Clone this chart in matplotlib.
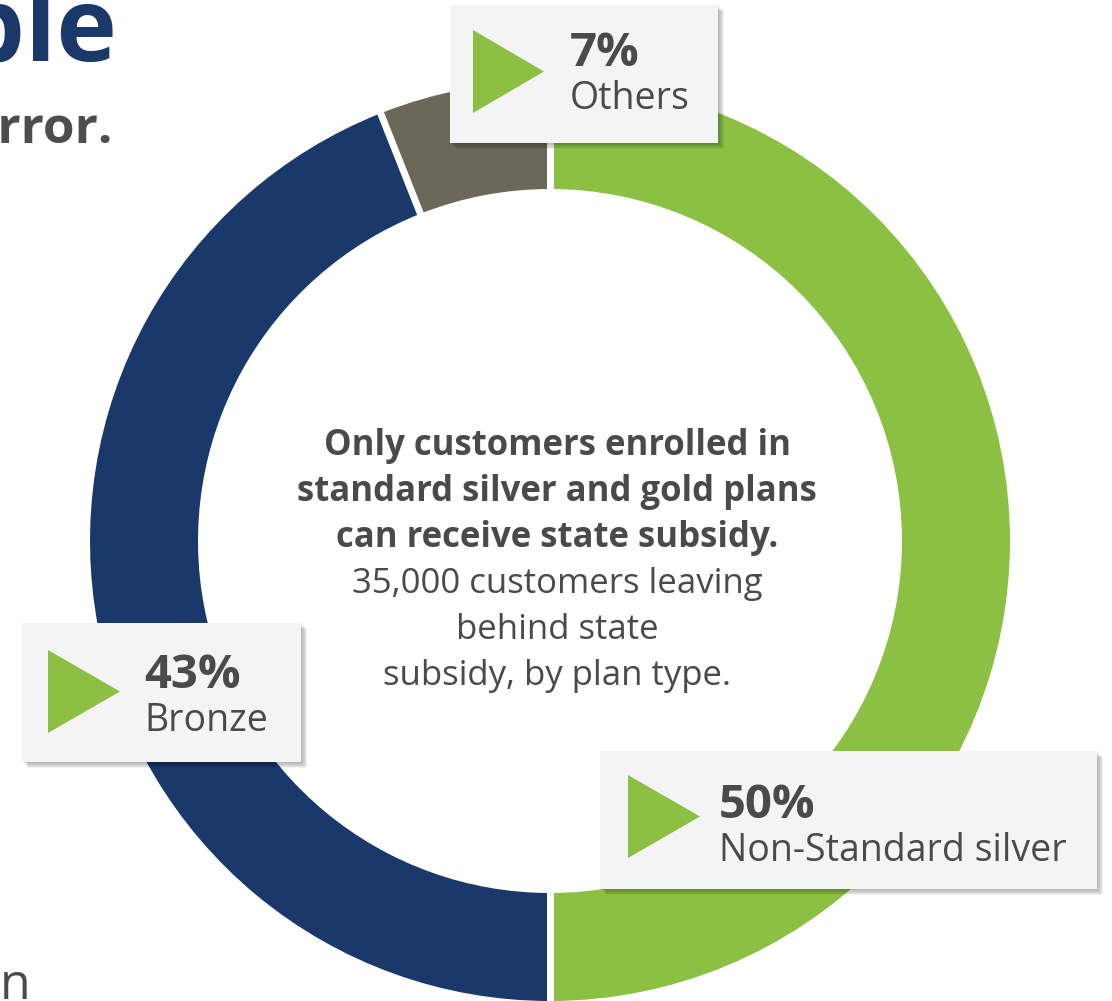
import matplotlib
matplotlib.use("Agg")
import matplotlib.pyplot as plt
from matplotlib.patches import Rectangle, Polygon
import numpy as np

# ---------------- data ----------------
categories = ["Non-Standard silver", "Bronze", "Others"]
shares = [50.0, 44.0, 6.0]          # ring geometry
pct_labels = ["50%", "43%", "7%"]    # printed labels
colors = ["#8BC043", "#1B386B", "#6B6759"]

center_bold = ["Only customers enrolled in",
               "standard silver and gold plans",
               "can receive state subsidy."]
center_regular = ["35,000 customers leaving",
                  "behind state",
                  "subsidy, by plan type."]

# ---------------- figure ----------------
W, H = 1112, 1001
TXT = "#4A4A4A"
plt.rcParams['font.family'] = ['Open Sans', 'DejaVu Sans']

fig = plt.figure(figsize=(W / 100, H / 100), dpi=100)
ax = fig.add_axes([0, 0, 1, 1])

cx, cy, R, RIN = 550, 541, 460, 352
ax.pie(shares, colors=colors, startangle=-90, counterclock=True,
       radius=R, center=(cx, cy),
       wedgeprops=dict(width=R - RIN, linewidth=0))
ax.set_xlim(0, W)
ax.set_ylim(H, 0)
ax.set_aspect('equal')
ax.axis('off')

# white separators between slices
cum = np.cumsum([0] + shares) / sum(shares)
for f in cum[:-1]:
    ang = np.deg2rad(-90 + 360 * f)
    r = np.array([RIN - 4, R + 4])
    ax.plot(cx + r * np.cos(ang), cy + r * np.sin(ang), color='white',
            lw=7 * 0.72, solid_capstyle='butt', zorder=3)


def callout(box, tri, tx, pct, name, pct_base, name_base):
    x0, y0, x1, y1 = box
    w, h = x1 - x0, y1 - y0
    for k in range(1, 8):
        ax.add_patch(Rectangle((x0 + k * 0.9, y0 + k * 0.9), w, h, fc='black',
                               ec='none', alpha=0.045, zorder=4))
    ax.add_patch(Rectangle((x0, y0), w, h, fc='#F4F4F4', ec='none', zorder=5))
    tx0, ty0, tx1, ty1 = tri
    ax.add_patch(Polygon([(tx0, ty0), (tx0, ty1), (tx1, (ty0 + ty1) / 2)],
                         closed=True, fc='#8BC043', ec='none', zorder=6))
    ax.text(tx, pct_base, pct, fontsize=34, fontweight='bold', color=TXT,
            va='baseline', ha='left', zorder=7)
    ax.text(tx, name_base, name, fontsize=27, color=TXT,
            va='baseline', ha='left', zorder=7)


callout((450, 5, 718, 143), (473, 30, 544, 113), 570, pct_labels[2], categories[2], 66, 109)
callout((22, 623, 301, 762), (48, 650, 120, 733), 144, pct_labels[1], categories[1], 688, 731)
callout((600, 751, 1097, 889), (628, 775, 700, 858), 719, pct_labels[0], categories[0], 818, 861)

# center text
base = 455
step = 46
for i, line in enumerate(center_bold):
    ax.text(557, base + i * step, line, fontsize=25, fontweight='bold', color=TXT,
            ha='center', va='baseline', zorder=7)
for j, line in enumerate(center_regular):
    ax.text(557, base + (3 + j) * step, line, fontsize=25, color=TXT,
            ha='center', va='baseline', zorder=7)

# slide fragments around the chart
ax.text(117, 61, "ple", fontsize=74, fontweight='bold', color="#1B386B",
        ha='right', va='baseline')
ax.text(113, 143, "error.", fontsize=37, fontweight='bold', color="#4D4D4D",
        ha='right', va='baseline')
ax.text(0, 999, "n", fontsize=36, color=TXT, ha='left', va='baseline')

fig.savefig("out.png", dpi=100, facecolor='white')
